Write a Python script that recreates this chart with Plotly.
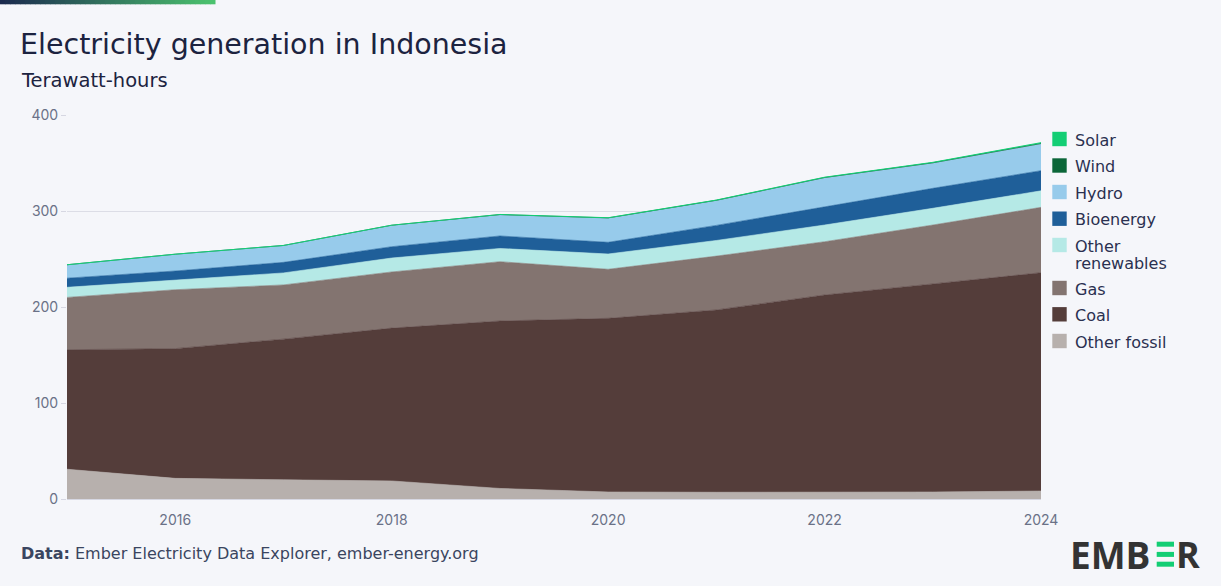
import plotly.graph_objects as go

years = [2015, 2016, 2017, 2018, 2019, 2020, 2021, 2022, 2023, 2024]
other_fossil = [31.0, 21.5, 20.0, 18.8, 11.0, 7.3, 7.0, 7.0, 7.3, 8.3]
coal = [124.5, 135.1, 146.5, 159.2, 174.4, 180.9, 189.9, 205.5, 216.7, 227.4]
gas = [54.5, 61.4, 56.5, 58.5, 61.8, 51.1, 56.1, 55.5, 61.4, 68.1]
other_renewables = [10.5, 10.0, 12.5, 14.5, 13.8, 15.9, 16.3, 17.4, 17.4, 17.2]
bioenergy = [9.5, 9.5, 11.0, 11.8, 13.0, 12.2, 15.7, 19.1, 20.8, 21.0]
hydro = [14.0, 17.5, 17.6, 22.2, 21.8, 25.0, 25.8, 29.9, 26.1, 27.8]
wind = [0.0, 0.0, 0.0, 0.2, 0.5, 0.4, 0.4, 0.5, 0.5, 0.5]
solar = [0.0, 0.0, 0.0, 0.0, 0.1, 0.2, 0.2, 0.3, 0.5, 0.9]

series = [
    ("Other fossil", other_fossil, "#b7b0ad"),
    ("Coal", coal, "#543d3a"),
    ("Gas", gas, "#837470"),
    ("Other renewables", other_renewables, "#b5e9e6"),
    ("Bioenergy", bioenergy, "#1f5f99"),
    ("Hydro", hydro, "#97cbeb"),
    ("Wind", wind, "#0b6638"),
    ("Solar", solar, "#13ce74"),
]

W, H = 1221, 586
L, R, T, B = 67, 180, 115, 87
PW, PH = W - L - R, H - T - B
FONT = "DejaVu Sans"
TICKFONT = "Inter"
BG = "#f5f6fa"


def px(x):
    return (x - L) / PW


def py(y):
    return (H - B - y) / PH


fig = go.Figure()
for name, vals, col in series:
    lw = 1.0 if name == "Solar" else 0.6
    fig.add_trace(go.Scatter(
        x=years, y=vals, name=name, stackgroup="one", mode="lines",
        line=dict(width=lw, color=col), fillcolor=col, showlegend=False,
    ))

annotations = []
shapes = []

# top gradient bar
n = 43
c0 = (0x1b, 0x2a, 0x4e)
c1 = (0x4b, 0xc2, 0x6e)
for i in range(n):
    t = i / (n - 1)
    c = tuple(int(round(c0[k] + (c1[k] - c0[k]) * t)) for k in range(3))
    shapes.append(dict(type="rect", xref="paper", yref="paper",
                       x0=px(215 * i / n), x1=px(215 * (i + 1) / n + 0.5),
                       y0=py(0), y1=py(4.3), line=dict(width=0),
                       fillcolor="rgb(%d,%d,%d)" % c, layer="above"))


def text(s, x, y, size, color, family=FONT, xanchor="left"):
    annotations.append(dict(text=s, xref="paper", yref="paper", x=px(x), y=py(y),
                            xanchor=xanchor, yanchor="middle", showarrow=False,
                            font=dict(family=family, size=size, color=color)))


text("Electricity generation in Indonesia", 18, 44.7, 28.5, "#1c2340")
text("Terawatt-hours", 18.5, 81, 19.5, "#1c2340")
text("<b>Data:</b> Ember Electricity Data Explorer, ember-energy.org", 18.5, 553.5, 16, "#3a4560")

# legend
legend_rows = [
    (["Solar"], "#13ce74", 139.0),
    (["Wind"], "#0b6638", 165.5),
    (["Hydro"], "#97cbeb", 192.0),
    (["Bioenergy"], "#1f5f99", 218.7),
    (["Other", "renewables"], "#b5e9e6", 245.0),
    (["Gas"], "#837470", 288.0),
    (["Coal"], "#543d3a", 314.3),
    (["Other fossil"], "#b7b0ad", 341.0),
]
for lines, col, yc in legend_rows:
    shapes.append(dict(type="rect", xref="paper", yref="paper",
                       x0=px(1052.3), x1=px(1066.7), y0=py(yc - 7.2), y1=py(yc + 7.2),
                       line=dict(width=0), fillcolor=col))
    for j, s in enumerate(lines):
        text(s, 1072.5, yc + 1 + 17 * j, 16, "#2a3050")

# EMBER logo
text("<b>EMB</b>", 1152, 554.3, 37, "#333333", family="Open Sans", xanchor="right")
text("<b>R</b>", 1188.3, 554.3, 36, "#333333", family="Open Sans", xanchor="center")
for y0 in (541.7, 551.9, 561.7):
    shapes.append(dict(type="rect", xref="paper", yref="paper",
                       x0=px(1156.7), x1=px(1174.0), y0=py(y0), y1=py(y0 + 5.0),
                       line=dict(width=0), fillcolor="#13ce74"))

fig.update_layout(
    width=W, height=H,
    margin=dict(l=L, r=R, t=T, b=B),
    paper_bgcolor=BG, plot_bgcolor=BG,
    showlegend=False,
    shapes=shapes,
    annotations=annotations,
    font=dict(family=FONT),
    xaxis=dict(range=[2015, 2024], tickvals=[2016, 2018, 2020, 2022, 2024],
               showgrid=False, zeroline=False, showline=True, linecolor="#d6d7e2", linewidth=1,
               ticks="", ticklabelstandoff=8,
               tickfont=dict(family=TICKFONT, size=14, color="#6a7187")),
    yaxis=dict(range=[0, 400], tickvals=[0, 100, 200, 300, 400],
               showgrid=True, gridcolor="#dcdde6", gridwidth=1, zeroline=False,
               ticks="outside", ticklen=5, tickcolor="#d6d7e2",
               tickfont=dict(family=TICKFONT, size=14, color="#6a7187")),
)

fig.write_html("out.html")
